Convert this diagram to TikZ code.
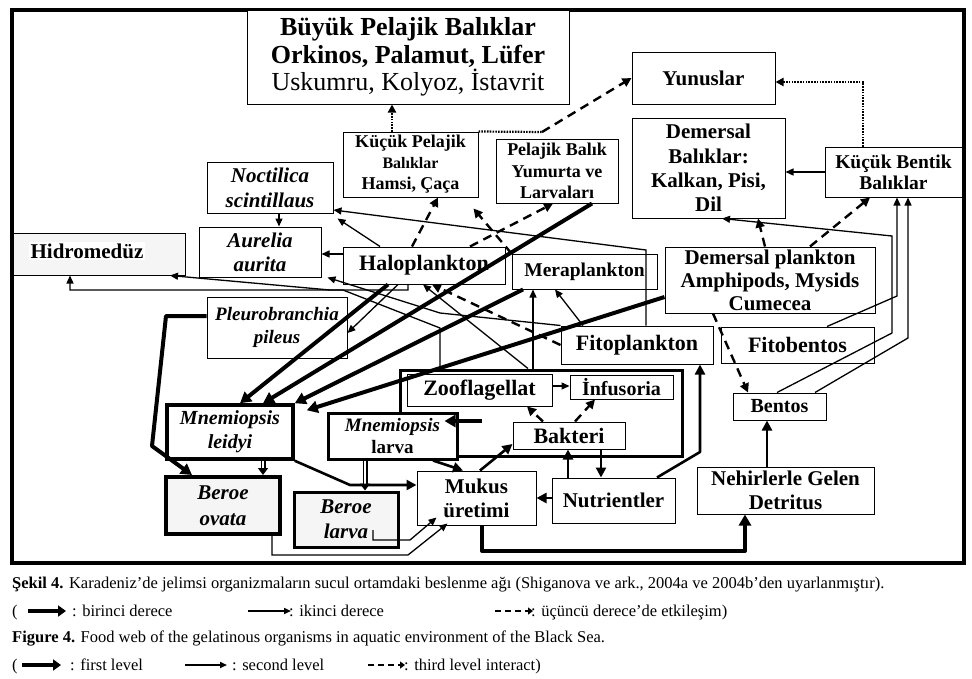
\documentclass[tikz,border=0pt]{standalone}
\usepackage{fontspec}
\setmainfont{Liberation Serif}
\usetikzlibrary{arrows.meta,calc}
\newcommand\myfs[2]{\fontsize{#1pt}{#2pt}\selectfont}
\begin{document}
\begin{tikzpicture}[x=1pt,y=-1pt,
  box/.style={draw, line width=1pt, inner sep=0pt, align=center, fill=white},
  arrA/.style={line width=4pt, line join=round, -{Triangle[length=11pt,width=12pt]}},
  arrM/.style={line width=2.6pt, line join=round, -{Triangle[length=10pt,width=10pt]}},
  arrT/.style={line width=1.3pt, -{Triangle[length=8pt,width=7pt]}},
  arrD/.style={line width=2.4pt, dash pattern=on 9pt off 6pt, -{Triangle[length=9pt,width=9pt]}},
  dotl/.style={line width=2.2pt, dash pattern=on 1.6pt off 1.2pt},
  arrDot/.style={dotl, -{Triangle[length=8pt,width=8pt]}},
  hollow/.style={double=white, double distance=2.4pt, line width=1.3pt, -{Triangle[length=7pt,width=10pt]}},
  captext/.style={anchor=base west, inner sep=0pt, font=\myfs{16.5}{19}}
]
\useasboundingbox (0,0) rectangle (972,678);
\draw[line width=4pt] (12,10) rectangle (964,563);

% boxes
\node[box, minimum width=322pt, minimum height=94pt, font=\bfseries\myfs{26}{27.5}] (buyuk) at (408,57) {Büyük Pelajik Balıklar\\Orkinos, Palamut, Lüfer\\\mdseries Uskumru, Kolyoz, İstavrit};
\node[box, minimum width=143pt, minimum height=52pt, font=\bfseries\myfs{21}{24}] (yunus) at (703.5,78) {Yunuslar};
\node[box, minimum width=153pt, minimum height=100pt, font=\bfseries\myfs{21}{24.3}] (dembal) at (708.5,168) {Demersal\\Balıklar:\\Kalkan, Pisi,\\Dil};
\node[box, minimum width=137pt, minimum height=50pt, font=\bfseries\myfs{19.5}{21}] (kbentik) at (893.5,172) {Küçük Bentik\\Balıklar};
\node[box, minimum width=135pt, minimum height=65pt, font=\bfseries\myfs{18}{21}] (kpel) at (410.5,164.5) {Küçük Pelajik\\{\myfs{16}{21}Balıklar}\\Hamsi, Çaça};
\node[box, minimum width=122pt, minimum height=64pt, font=\bfseries\myfs{18}{21.5}] (pbalik) at (557,171) {Pelajik Balık\\Yumurta ve\\Larvaları};
\node[box, minimum width=126pt, minimum height=51pt, font=\bfseries\itshape\myfs{21}{25}] (noct) at (270,187.5) {Noctilica\\scintillaus};
\node[box, minimum width=122pt, minimum height=50pt, font=\bfseries\itshape\myfs{21}{24}] (aurelia) at (260,252) {Aurelia\\aurita};
\node[box, minimum width=172pt, minimum height=42pt, fill=gray!8] (hidro) at (99,254) {};
\node[fill=white, inner sep=2pt, font=\bfseries\myfs{21}{24}] (hidrot) at (87,251) {Hidromedüz};
\node[box, minimum width=162pt, minimum height=37pt, font=\bfseries\myfs{22}{24}] (halo) at (424,265.5) {Haloplankton};
\node[box, minimum width=145pt, minimum height=35pt, font=\bfseries\myfs{19.5}{24}] (mera) at (584.5,271.5) {Meraplankton};
\node[box, minimum width=210pt, minimum height=66pt, font=\bfseries\myfs{21}{23}] (dplank) at (770,280) {Demersal plankton\\Amphipods, Mysids\\Cumecea};
\node[box, minimum width=140pt, minimum height=61pt, font=\bfseries\itshape\myfs{19}{23}] (pleuro) at (277,327.5) {Pleurobranchia\\pileus};
\node[box, minimum width=152pt, minimum height=38pt, font=\bfseries\myfs{22}{24}] (fito) at (637,345) {Fitoplankton};
\node[box, minimum width=153pt, minimum height=36pt, font=\bfseries\myfs{22}{24}] (fitob) at (797.5,345) {Fitobentos};
\node[box, minimum width=93pt, minimum height=27pt, font=\bfseries\myfs{20}{24}] (bentos) at (779.5,406.5) {Bentos};
\node[box, line width=3pt, minimum width=282pt, minimum height=86pt, fill=none] (micro) at (541,413) {};
\node[box, minimum width=145pt, minimum height=32pt, font=\bfseries\myfs{22}{24}] (zoof) at (479.5,390) {Zooflagellat};
\node[box, minimum width=103pt, minimum height=24pt, font=\bfseries\myfs{20}{24}] (infus) at (621.5,387) {İnfusoria};
\node[box, minimum width=112pt, minimum height=27pt, font=\bfseries\myfs{22}{24}] (bakteri) at (569,435.5) {Bakteri};
\node[box, line width=3pt, minimum width=129pt, minimum height=46pt, font=\bfseries\myfs{19}{22}] (mlarva) at (392.5,436) {\itshape Mnemiopsis\\larva};
\node[box, minimum width=119pt, minimum height=54pt, font=\bfseries\myfs{21}{24}] (mukus) at (476.5,498) {Mukus\\üretimi};
\node[box, minimum width=123pt, minimum height=45pt, font=\bfseries\myfs{21}{24}] (nutr) at (613.5,500.5) {Nutrientler};
\node[box, minimum width=177pt, minimum height=47pt, font=\bfseries\myfs{21}{24}] (detr) at (785.5,490.5) {Nehirlerle Gelen\\Detritus};
\node[box, line width=3.5pt, minimum width=126pt, minimum height=54pt, font=\bfseries\itshape\myfs{20}{24}] (mleidyi) at (230,432) {Mnemiopsis\\leidyi};
\node[box, line width=4pt, minimum width=114pt, minimum height=57pt, fill=gray!8, font=\bfseries\itshape\myfs{21}{26}] (bovata) at (223,505.5) {Beroe\\ovata};
\node[box, line width=3pt, minimum width=104pt, minimum height=55pt, fill=gray!8, font=\bfseries\itshape\myfs{21}{25}] (blarva) at (346,519.5) {Beroe\\larva};

% dotted / top connectors
\draw[arrDot] (kpel.north -| 392,0) -- (buyuk.south -| 392,0);
\coordinate (kp1) at (542,132);
\draw[dotl] (kpel.north east) -- (kp1);
\draw[arrD] (kp1) -- (yunus.west);
\coordinate (kb1) at (863,82);
\draw[arrDot] (kbentik.north -| kb1) -- (kb1) -- (yunus.east |- kb1);

% second level (thin)
\draw[arrT] (noct.south -| 279,0) -- (aurelia.north -| 279,0);
\draw[arrT] (halo.west |- 0,254) -- (aurelia.east |- 0,254);
\draw[arrT] (halo.north -| 380,0) -- ([shift={(4,5)}]noct.south east);
\draw[arrT] (halo.south -| 398,0) -- (pleuro.east |- 0,333);
\coordinate (f1) at (646,250);
\draw[arrT] (fito.north -| f1) -- (f1) -- (noct.east |- 0,210);
\coordinate (f2) at (440,313);
\draw[arrT] (fito.north west) -- (f2) -- ([xshift=6pt]aurelia.south east);
\coordinate (h1) at (440,328); \coordinate (h2) at (343,290); \coordinate (h3) at (70,290);
\draw[arrT] (micro.north -| h1) -- (h1) -- (h2) -- (h3) -- (hidro.south -| h3);
\coordinate (h4) at (408,290); \coordinate (h5) at (330,290);
\draw[arrT] (halo.south -| h4) -- (h4) -- (h5) -- (hidro.south -| 170,0);
\draw[arrT] (micro.north -| 528,0) -- (halo.south -| 423,0);
\draw[arrT] (micro.north -| 533,0) -- (mera.south -| 533,0);
\draw[arrT] (fito.north -| 583,0) -- (mera.south -| 555,0);
\draw[arrT] (kbentik.west) -- (dembal.east |- kbentik.west);
\coordinate (b1) at (892,333); \coordinate (b2) at (892,236);
\draw[arrT] (bentos.north -| 777,0) -- (b1) -- (b2) -- (dembal.south -| 722,0);
\coordinate (b3) at (897,296);
\draw[arrT] (fitob.north -| 827,0) -- (b3) -- (kbentik.south -| b3);
\coordinate (b4) at (908,338);
\draw[arrT] (bentos.north -| 815,0) -- (b4) -- (kbentik.south -| b4);
\draw[arrT] (zoof.east |- 0,386) -- (infus.west |- 0,386);
\coordinate (bl1) at (373,530); \coordinate (bl2) at (373,540); \coordinate (bl3) at (410,540);
\draw[arrT] (bl1) -- (bl2) -- (bl3) -- ([shift={(20,-8)}]mukus.south west);
\coordinate (bo1) at (272,555); \coordinate (bo2) at (408,555);
\draw[arrT] (bovata.south -| bo1) -- (bo1) -- (bo2) -- ([shift={(31,-2)}]mukus.south west);

% medium / first level
\coordinate (m1) at (350,485);
\draw[arrM] (mleidyi.south east) -- (m1) -- (mukus.west |- m1);
\draw[arrM] (mlarva.south -| 433,0) -- (mukus.north -| 463,0);
\draw[arrM] (mukus.north -| 480,0) -- (bakteri.west |- 0,444);
\draw[arrM] (nutr.west |- 0,498) -- (mukus.east |- 0,498);
\draw[arrM] (bakteri.south -| 601,0) -- (nutr.north -| 601,0);
\draw[arrM] (nutr.north -| 568,0) -- (bakteri.south -| 568,0);
\coordinate (n1) at (700,452);
\draw[arrM] (nutr.north -| 657,0) -- (n1) -- (fito.south -| n1);
\coordinate (d1) at (482,551); \coordinate (d2) at (745,551);
\draw[arrA] (mukus.south -| d1) -- (d1) -- (d2) -- (detr.south -| d2);
\draw[arrM] (detr.north -| 767,0) -- (bentos.south -| 767,0);
\coordinate (ml1) at (482,421);
\draw[arrA] (ml1) -- ([shift={(-14,-15)}]mlarva.east);

\draw[arrA] (halo.south -| 388,0) -- (mleidyi.north -| 240,0);
\draw[arrA] (pbalik.south -| 592,0) -- (mleidyi.north -| 263,0);
\draw[arrA] (mera.south -| 523,0) -- (mleidyi.north east);
\draw[arrA] (dplank.west |- 0,297) -- ([shift={(12,7)}]mleidyi.north east);
\coordinate (p1) at (166,316); \coordinate (p2) at (152,446);
\draw[arrA] (pleuro.west |- p1) -- (p1) -- (p2) -- (bovata.north -| 192,0);

\draw[hollow] (mleidyi.south -| 263,0) -- (bovata.north -| 263,0);
\draw[hollow] (mlarva.south -| 365,0) -- (blarva.north -| 365,0);

% third level (dashed)
\draw[arrD] (halo.north -| 412,0) -- (kpel.south -| 438,0);
\draw[arrD] (halo.north -| 470,0) -- (pbalik.south -| 553,0);
\draw[arrD] (mera.north west) -- ([shift={(-5,11)}]kpel.south east);
\draw[arrD] (fito.west) -- (halo.south -| 432,0);
\draw[arrD] (dplank.north -| 765,0) -- (dembal.south -| 758,0);
\draw[arrD] (dplank.north -| 810,0) -- (kbentik.south -| 870,0);
\draw[arrD] (dplank.south -| 713,0) -- (bentos.north -| 748,0);
\draw[arrD] (bakteri.north -| 543,0) -- (zoof.south -| 527,0);
\draw[arrD] (bakteri.north -| 575,0) -- (infus.south -| 595,0);

% caption
\node[captext] (c1) at (12,588) {\textbf{Şekil 4.} Karadeniz’de jelimsi organizmaların sucul ortamdaki beslenme ağı (Shiganova ve ark., 2004a ve 2004b’den uyarlanmıştır).};
\node[captext] (c2a) at (12,616) {(};
\coordinate (la1) at (28,611); \coordinate (la2) at (66,611);
\draw[line width=4pt, -{Triangle[length=8pt,width=11pt]}] (la1) -- (la2);
\node[captext] (c2b) at (72,616) {: birinci derece};
\coordinate (lb1) at (248,611); \coordinate (lb2) at (291,611);
\draw[line width=1.6pt, -{Triangle[length=7pt,width=6pt]}] (lb1) -- (lb2);
\node[captext] (c2c) at (289,616) {: ikinci derece};
\coordinate (lc1) at (495,611); \coordinate (lc2) at (533,611);
\draw[line width=2pt, dash pattern=on 6pt off 4pt, -{Triangle[length=5pt,width=7pt]}] (lc1) -- (lc2);
\node[captext] (c2d) at (531,616) {: üçüncü derece’de etkileşim)};
\node[captext] (c3) at (12,642) {\textbf{Figure 4.} Food web of the gelatinous organisms in aquatic environment of the Black Sea.};
\node[captext] (c4a) at (12,670) {(};
\coordinate (ld1) at (22,665); \coordinate (ld2) at (61,665);
\draw[line width=4pt, -{Triangle[length=8pt,width=11pt]}] (ld1) -- (ld2);
\node[captext] (c4b) at (70,670) {: first level};
\coordinate (le1) at (185,665); \coordinate (le2) at (227,665);
\draw[line width=1.6pt, -{Triangle[length=7pt,width=6pt]}] (le1) -- (le2);
\node[captext] (c4c) at (232,670) {: second level};
\coordinate (lf1) at (368,665); \coordinate (lf2) at (405,665);
\draw[line width=2pt, dash pattern=on 6pt off 4pt, -{Triangle[length=5pt,width=7pt]}] (lf1) -- (lf2);
\node[captext] (c4d) at (404,670) {: third level interact)};
\end{tikzpicture}
\end{document}
